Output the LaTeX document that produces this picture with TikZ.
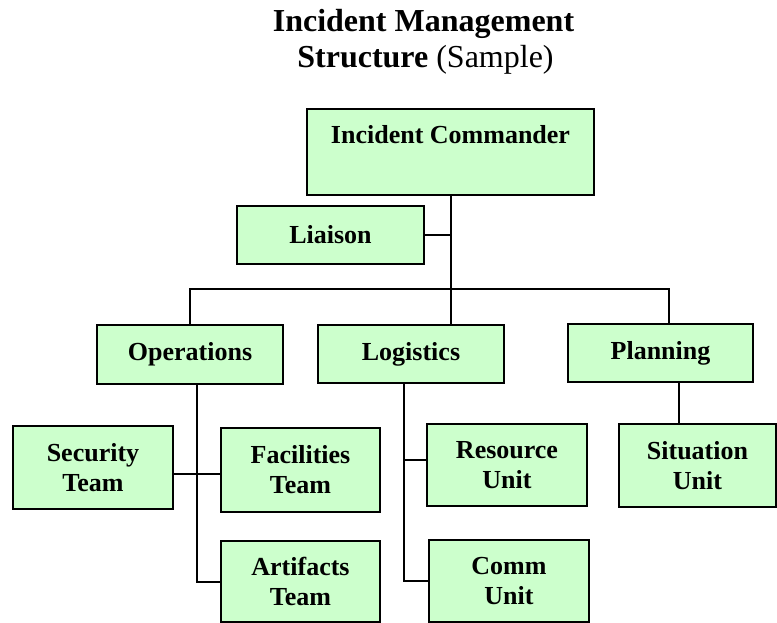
\documentclass[tikz,border=0pt]{standalone}
\usepackage{fontspec}
\setmainfont{Liberation Serif}
\usetikzlibrary{calc}
\definecolor{boxgreen}{HTML}{CCFFCC}
\begin{document}
\begin{tikzpicture}[x=1pt,y=-1pt,
  orgbox/.style={draw=black, line width=2pt, fill=boxgreen, inner sep=0pt,
    align=center, font=\fontsize{26}{30}\selectfont\bfseries},
  link/.style={draw=black, line width=2pt},
  titletext/.style={inner sep=0pt, anchor=base, font=\fontsize{32}{36}\selectfont}]
\useasboundingbox (0,0) rectangle (777,623);

% title
\node[titletext] (title1) at (423.5,32) {\bfseries Incident Management};
\node[titletext] (title2) at (425.5,68) {\textbf{Structure} (Sample)};

% boxes
\node[orgbox, minimum width=287pt, minimum height=86pt] (ic) at (450.5,152) {};
\node[inner sep=0pt, anchor=base, font=\fontsize{26}{30}\selectfont\bfseries]
  (ictext) at ($(ic.north)+(0,36)$) {Incident Commander};
\node[orgbox, minimum width=187pt, minimum height=58pt] (liaison) at (330.5,235) {Liaison};
\node[orgbox, minimum width=186pt, minimum height=59pt] (ops) at (190,354.5) {Operations};
\node[orgbox, minimum width=186pt, minimum height=58pt] (log) at (411,354) {Logistics};
\node[orgbox, minimum width=185pt, minimum height=58pt] (plan) at (660.5,353) {Planning};
\node[orgbox, minimum width=160pt, minimum height=83pt] (sec) at (93,467.5) {Security\\Team};
\node[orgbox, minimum width=159pt, minimum height=84pt] (fac) at (300.5,470) {Facilities\\Team};
\node[orgbox, minimum width=159pt, minimum height=81pt] (art) at (300.5,581.5) {Artifacts\\Team};
\node[orgbox, minimum width=160pt, minimum height=82pt] (res) at (507,465) {Resource\\Unit};
\node[orgbox, minimum width=160pt, minimum height=82pt] (comm) at (509,581) {Comm\\Unit};
\node[orgbox, minimum width=157pt, minimum height=83pt] (sit) at (697.5,465.5) {Situation\\Unit};

% connector junctions
\coordinate (bus) at (451,289);
\coordinate (opsx) at (197,0);
\coordinate (logx) at (404,0);
\coordinate (planx) at (669,0);
\coordinate (sitx) at (679,0);

% command spine
\draw[link] (ic.south -| bus) -- (bus |- log.north);
\draw[link] (liaison.east |- 0,235) -- (bus |- 0,235);
\draw[link] (ops.north -| 190,0) -- (190,289) -- (planx |- bus) -- (planx |- plan.north);

% operations branch
\draw[link] (opsx |- ops.south) -- (opsx |- 0,582) -- (art.west |- 0,582);
\draw[link] (sec.east |- 0,474) -- (fac.west |- 0,474);

% logistics branch
\draw[link] (logx |- log.south) -- (logx |- 0,581) -- (comm.west |- 0,581);
\draw[link] (logx |- 0,460) -- (res.west |- 0,460);

% planning branch
\draw[link] (sitx |- plan.south) -- (sitx |- sit.north);
\end{tikzpicture}
\end{document}
